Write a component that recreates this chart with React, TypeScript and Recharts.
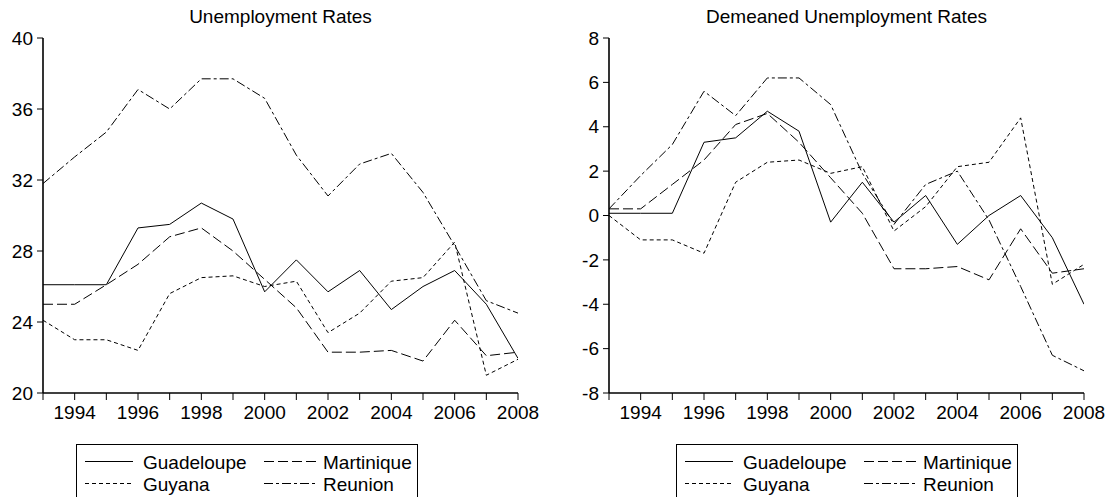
import React from 'react';
import { LineChart, Line, XAxis, YAxis } from 'recharts';

const years = [1993, 1994, 1995, 1996, 1997, 1998, 1999, 2000, 2001, 2002, 2003, 2004, 2005, 2006, 2007, 2008];

// Unemployment rates (%)
const guadeloupe = [26.1, 26.1, 26.1, 29.3, 29.5, 30.7, 29.8, 25.7, 27.5, 25.7, 26.9, 24.7, 26.0, 26.9, 25.0, 21.95];
const martinique = [25.0, 25.0, 26.1, 27.25, 28.8, 29.3, 28.0, 26.4, 24.8, 22.3, 22.3, 22.4, 21.8, 24.1, 22.1, 22.3];
const guyana = [24.1, 23.0, 23.0, 22.4, 25.6, 26.5, 26.6, 26.0, 26.3, 23.4, 24.5, 26.3, 26.5, 28.5, 21.0, 21.9];
const reunion = [31.8, 33.3, 34.7, 37.1, 36.0, 37.7, 37.7, 36.6, 33.4, 31.1, 32.9, 33.5, 31.3, 28.3, 25.2, 24.5];

// Demeaned unemployment rates
const dGuadeloupe = [0.1, 0.1, 0.1, 3.3, 3.5, 4.7, 3.8, -0.3, 1.5, -0.3, 0.9, -1.3, 0.0, 0.9, -1.0, -4.0];
const dMartinique = [0.3, 0.3, 1.4, 2.5, 4.1, 4.6, 3.3, 1.7, 0.1, -2.4, -2.4, -2.3, -2.9, -0.6, -2.6, -2.4];
const dGuyana = [0.0, -1.1, -1.1, -1.7, 1.5, 2.4, 2.5, 1.9, 2.2, -0.7, 0.4, 2.2, 2.4, 4.4, -3.1, -2.2];
const dReunion = [0.3, 1.8, 3.2, 5.6, 4.5, 6.2, 6.2, 5.0, 1.9, -0.4, 1.4, 2.0, -0.2, -3.2, -6.3, -7.0];

const leftTicks = [20, 24, 28, 32, 36, 40];
const rightTicks = [-8, -6, -4, -2, 0, 2, 4, 6, 8];

const seriesNames = ['Guadeloupe', 'Martinique', 'Guyana', 'Reunion'];
const dashes: Record<string, string | undefined> = {
  Guadeloupe: undefined,
  Martinique: '10 4',
  Guyana: '4 3',
  Reunion: '9 3 3 3',
};

const FONT = '"Liberation Sans", Arial, sans-serif';
const FS = 19;

function buildRows(a: number[], b: number[], c: number[], d: number[]) {
  return years.map((y, i) => ({
    year: y,
    Guadeloupe: a[i],
    Martinique: b[i],
    Guyana: c[i],
    Reunion: d[i],
  }));
}

const leftRows = buildRows(guadeloupe, martinique, guyana, reunion);
const rightRows = buildRows(dGuadeloupe, dMartinique, dGuyana, dReunion);

const yearLabel = (v: number) => (v % 2 === 0 ? String(v) : '');

interface PanelProps {
  left: number;
  title: string;
  rows: any[];
  domain: [number, number];
  ticks: number[];
  yWidth: number;
  rightMargin: number;
  width: number;
}

function Panel({ left, title, rows, domain, ticks, yWidth, rightMargin, width }: PanelProps) {
  const plotLeft = yWidth;
  const plotRight = width - rightMargin;
  return (
    <div style={{ position: 'absolute', left, top: 0, width, height: 440 }}>
      <div
        style={{
          position: 'absolute',
          left: plotLeft,
          width: plotRight - plotLeft,
          top: 7,
          textAlign: 'center',
          fontFamily: FONT,
          fontSize: FS,
          lineHeight: `${FS}px`,
          color: '#000',
          whiteSpace: 'nowrap',
        }}
      >
        {title}
      </div>
      <LineChart
        width={width}
        height={440}
        data={rows}
        margin={{ top: 38, right: rightMargin, bottom: 7, left: 0 }}
        style={{ position: 'absolute', left: 0, top: 0 }}
      >
        <XAxis
          dataKey="year"
          type="number"
          domain={[1993, 2008]}
          ticks={years}
          interval={0}
          tickFormatter={yearLabel}
          tickSize={7}
          tickMargin={6}
          height={40}
          axisLine={{ stroke: '#000', strokeWidth: 1.6 }}
          tickLine={{ stroke: '#000', strokeWidth: 1 }}
          tick={{ fill: '#000', fontSize: FS, fontFamily: FONT }}
          allowDataOverflow
        />
        <XAxis
          xAxisId="top"
          dataKey="year"
          type="number"
          domain={[1993, 2008]}
          orientation="top"
          height={0}
          tick={false}
          tickLine={false}
          axisLine={{ stroke: '#000', strokeWidth: 1.6 }}
        />
        <YAxis
          type="number"
          domain={domain}
          ticks={ticks}
          interval={0}
          width={yWidth}
          tickSize={6}
          tickMargin={4}
          axisLine={{ stroke: '#000', strokeWidth: 1.6 }}
          tickLine={{ stroke: '#000', strokeWidth: 1 }}
          tick={{ fill: '#000', fontSize: FS, fontFamily: FONT }}
          allowDataOverflow
        />
        <YAxis
          yAxisId="r"
          orientation="right"
          type="number"
          domain={domain}
          width={0}
          tick={false}
          tickLine={false}
          axisLine={{ stroke: '#000', strokeWidth: 1.6 }}
        />
        {seriesNames.map((n) => (
          <Line
            key={n}
            type="linear"
            dataKey={n}
            stroke="#000"
            strokeWidth={1}
            strokeDasharray={dashes[n]}
            dot={false}
            activeDot={false}
            isAnimationActive={false}
          />
        ))}
      </LineChart>
    </div>
  );
}

function LegendBox({ left }: { left: number }) {
  const items = [
    { name: 'Guadeloupe', col: 0, row: 0 },
    { name: 'Martinique', col: 1, row: 0 },
    { name: 'Guyana', col: 0, row: 1 },
    { name: 'Reunion', col: 1, row: 1 },
  ];
  const W = 342;
  return (
    <div
      style={{
        position: 'absolute',
        left,
        top: 444,
        width: W,
        height: 80,
        borderTop: '1px solid #000',
        borderLeft: '1px solid #000',
        borderRight: '1px solid #000',
        boxSizing: 'border-box',
      }}
    >
      <svg width={W} height={60} style={{ position: 'absolute', left: -1, top: -1 }}>
        {items.map((it) => {
          const x0 = it.col === 0 ? 9 : 188;
          const x1 = it.col === 0 ? 57 : 241;
          const ly = it.row === 0 ? 17.5 : 39.5;
          return (
            <line
              key={it.name}
              x1={x0}
              x2={x1}
              y1={ly}
              y2={ly}
              stroke="#000"
              strokeWidth={1}
              strokeDasharray={dashes[it.name]}
            />
          );
        })}
        {items.map((it) => {
          const tx = it.col === 0 ? 67 : 247;
          const ty = it.row === 0 ? 24.5 : 46.5;
          return (
            <text key={it.name + 't'} x={tx} y={ty} fontSize={FS} fontFamily={FONT} fill="#000">
              {it.name}
            </text>
          );
        })}
      </svg>
    </div>
  );
}

export default function App() {
  return (
    <div
      style={{
        position: 'absolute',
        left: 0,
        top: 0,
        width: 1111,
        height: 497,
        overflow: 'hidden',
        background: '#fff',
      }}
    >
      <Panel
        left={0}
        title="Unemployment Rates"
        rows={leftRows}
        domain={[20, 40]}
        ticks={leftTicks}
        yWidth={43}
        rightMargin={42}
        width={560}
      />
      <Panel
        left={560}
        title="Demeaned Unemployment Rates"
        rows={rightRows}
        domain={[-8, 8]}
        ticks={rightTicks}
        yWidth={49}
        rightMargin={27}
        width={551}
      />
      <LegendBox left={76} />
      <LegendBox left={676} />
    </div>
  );
}
